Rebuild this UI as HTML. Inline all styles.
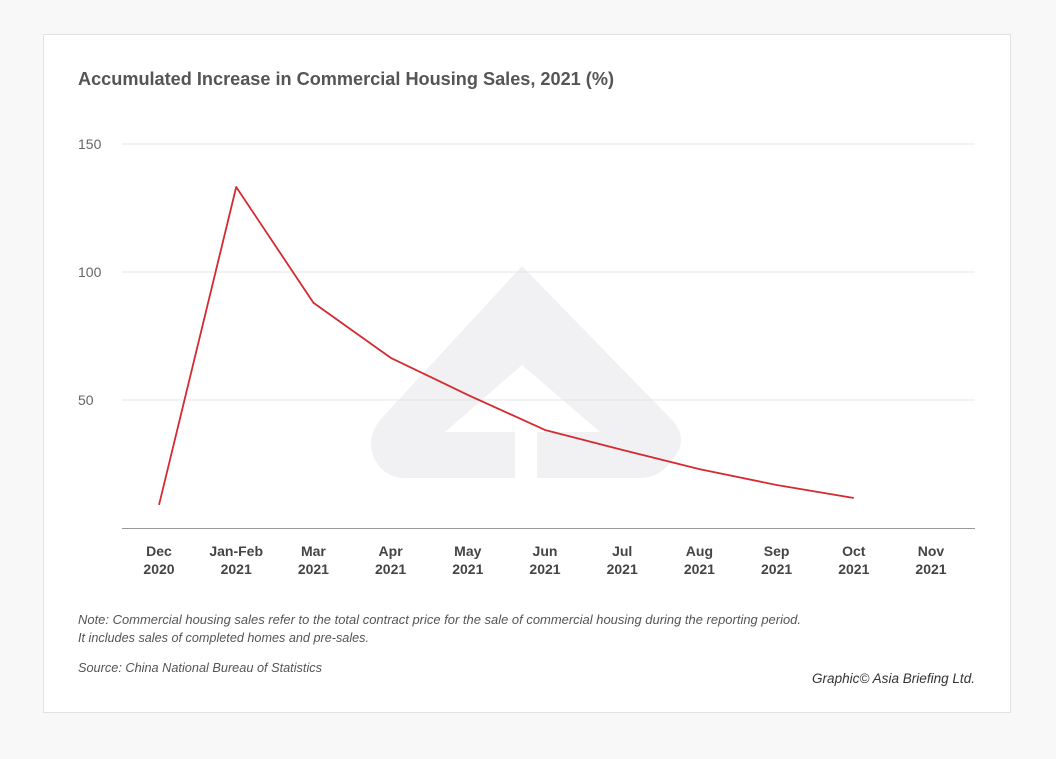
<!DOCTYPE html>
<html><head><meta charset="utf-8"><style>
html,body{margin:0;padding:0;background:#f9f9f9;}
svg{display:block;font-family:"Liberation Sans",sans-serif;}
</style></head><body>
<svg id="chart" width="1056" height="759" viewBox="0 0 1056 759">
<rect x="0" y="0" width="1056" height="759" fill="#f8f8f8"/>
<rect x="43.5" y="34.5" width="967" height="678" fill="#fff" stroke="#e2e2e2"/>
<g fill="#f1f1f4">
<path d="M522 266 L672 420 Q690 440 672 460 Q660 478 640 478 L537 478 L537 432 L600 432 L522 365 L445 432 L515 432 L515 478 L405 478 Q385 478 375 460 Q365 440 380 420 Z"/>
</g>
<text x="78" y="85" font-size="18" font-weight="bold" fill="#555" textLength="536" lengthAdjust="spacingAndGlyphs">Accumulated Increase in Commercial Housing Sales, 2021 (%)</text>
<g id="grid"></g>
<g id="xlabels"></g>
<polyline id="line" fill="none" stroke="#d42a30" stroke-width="1.8" stroke-linejoin="round"/>
<text x="78" y="624" font-size="12.5" font-style="italic" fill="#555" textLength="723" lengthAdjust="spacingAndGlyphs">Note: Commercial housing sales refer to the total contract price for the sale of commercial housing during the reporting period.</text>
<text x="78" y="642" font-size="12.5" font-style="italic" fill="#555" textLength="291" lengthAdjust="spacingAndGlyphs">It includes sales of completed homes and pre-sales.</text>
<text x="78" y="672" font-size="12.5" font-style="italic" fill="#555" textLength="244" lengthAdjust="spacingAndGlyphs">Source: China National Bureau of Statistics</text>
<text x="975" y="683" font-size="13.5" font-style="italic" fill="#333" text-anchor="end" textLength="163" lengthAdjust="spacingAndGlyphs">Graphic© Asia Briefing Ltd.</text>
</svg>
<script>
const categories=["Dec|2020","Jan-Feb|2021","Mar|2021","Apr|2021","May|2021","Jun|2021","Jul|2021","Aug|2021","Sep|2021","Oct|2021","Nov|2021"];
const values=[9,133.2,88,66.5,52,38.3,30.5,23,16.8,11.7];
const yTicks=[50,100,150];
const NS="http://www.w3.org/2000/svg";
const x=i=>159+i*77.2;
const y=v=>528-v*2.56;
const grid=document.getElementById('grid');
yTicks.forEach(t=>{
 const l=document.createElementNS(NS,'line');
 l.setAttribute('x1',122);l.setAttribute('x2',975);l.setAttribute('y1',y(t));l.setAttribute('y2',y(t));
 l.setAttribute('stroke','#e4e4e4');
 
 
 grid.appendChild(l);
 const tx=document.createElementNS(NS,'text');
 tx.setAttribute('x',78);tx.setAttribute('y',y(t)+5);tx.setAttribute('font-size','14');tx.setAttribute('fill','#666');
 tx.textContent=t;
 
 
 grid.appendChild(tx);
});
const ax=document.createElementNS(NS,'line');
ax.setAttribute('x1',122);ax.setAttribute('x2',975);ax.setAttribute('y1',528.5);ax.setAttribute('y2',528.5);ax.setAttribute('stroke','#999');


grid.appendChild(ax);
const xl=document.getElementById('xlabels');
categories.forEach((c,i)=>{
 c.split('|').forEach((p,j)=>{
  const t=document.createElementNS(NS,'text');
  t.setAttribute('x',x(i));t.setAttribute('y',556+j*18);t.setAttribute('font-size','14');t.setAttribute('font-weight','bold');
  t.setAttribute('fill','#444');t.setAttribute('text-anchor','middle');
  t.textContent=p;
  
  
  xl.appendChild(t);
 });
});
document.getElementById('line').setAttribute('points',values.map((v,i)=>x(i)+','+y(v)).join(' '));
</script>
</body></html>
